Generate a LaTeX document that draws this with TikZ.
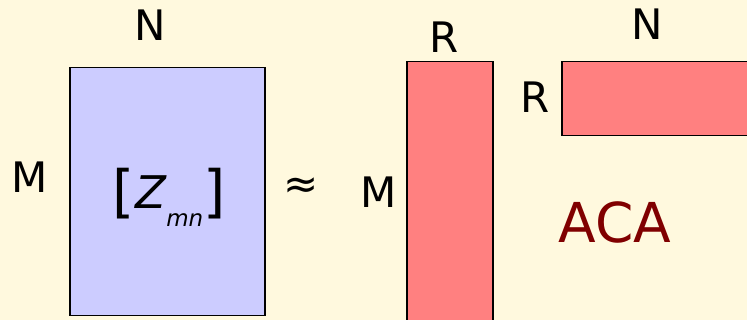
\documentclass[tikz,border=0pt]{standalone}
\usepackage{fontspec}
\setmainfont{DejaVu Sans}
\usetikzlibrary{positioning}
\definecolor{bgyellow}{RGB}{255,249,222}
\definecolor{matblue}{RGB}{204,204,255}
\definecolor{matred}{RGB}{255,128,128}
\definecolor{acared}{RGB}{128,0,0}

\begin{document}
\begin{tikzpicture}[x=1pt, y=-1pt,
    every node/.style={font=\fontsize{42}{50}\selectfont, inner sep=0pt},
    matbox/.style={draw, line width=1.5pt, inner sep=0pt, anchor=north west}]
  \clip (0,0) rectangle (747,320);
  \fill[bgyellow] (0,0) rectangle (747,320);
  % full matrix
  \node[matbox, fill=matblue, minimum width=195pt, minimum height=248pt] (zfull) at (69,67) {};
  \node (nleft) at (150,25) {N};
  \node (mleft) at (30,177) {M};
  \node[anchor=base west] (zmn) at (112,212) {{\fontsize{57}{60}\selectfont[}\hspace{1pt}\raisebox{3pt}{\fontsize{45}{50}\selectfont\itshape Z}\raisebox{-15pt}{\fontsize{23}{27}\selectfont\itshape mn}{\fontsize{57}{60}\selectfont]}};
  \node (approx) at (301,188) {≈};
  % low rank factors
  \node[matbox, fill=matred, minimum width=86pt, minimum height=270pt] (ufac) at (406,61) {};
  \node (mmid) at (379,192) {M};
  \node (rtop) at (444,37) {R};
  \node[matbox, fill=matred, minimum width=200pt, minimum height=74pt] (vfac) at (561,61) {};
  \node (rmid) at (535,97) {R};
  \node (nright) at (647,24) {N};
  \node[text=acared, font=\fontsize{55}{60}\selectfont] (aca) at (615,222) {ACA};
\end{tikzpicture}
\end{document}
